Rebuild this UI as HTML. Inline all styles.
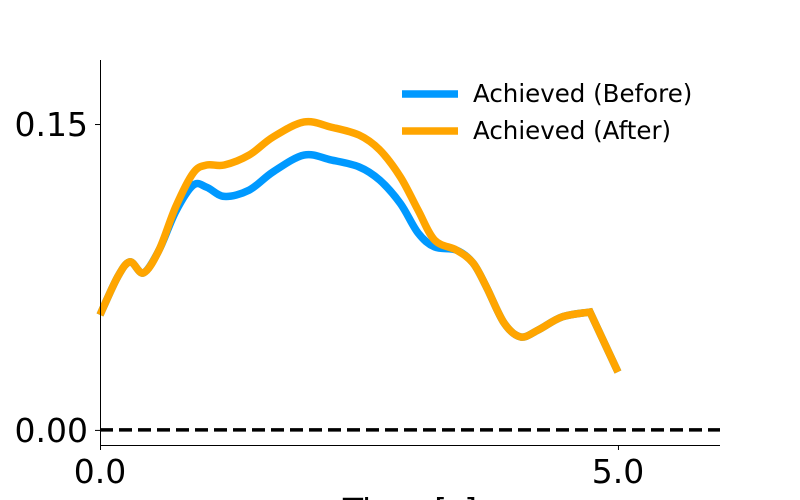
<!DOCTYPE html>
<html><head><meta charset="utf-8"><style>
html,body{margin:0;padding:0;background:#fff;width:800px;height:500px;overflow:hidden;}
svg{display:block;font-family:"DejaVu Sans","Liberation Sans",sans-serif;}
</style></head><body>
<svg id="chart" width="800" height="500" xmlns="http://www.w3.org/2000/svg" style="overflow:hidden">
<g id="plot"></g>
</svg>
<script>
const times = [0,0.17,0.29,0.42,0.57,0.73,0.9,1.03,1.2,1.44,1.67,1.97,2.23,2.5,2.7,2.9,3.07,3.23,3.44,3.6,3.73,3.9,4.06,4.23,4.46,4.73,5.0];
const afterVals = [0.0564,0.075,0.0824,0.077,0.0882,0.1093,0.126,0.1299,0.1299,0.1348,0.1436,0.151,0.1485,0.1446,0.1373,0.124,0.1078,0.0931,0.0882,0.0819,0.0701,0.0525,0.0456,0.049,0.0554,0.0578,0.0284];
const beforeVals = [0.0564,0.075,0.0824,0.077,0.0882,0.107,0.12,0.119,0.1145,0.1176,0.1265,0.1348,0.1324,0.129,0.1225,0.111,0.0966,0.0897,0.0882,0.0819,0.0701,0.0525,0.0456,0.049,0.0554,0.0578,0.0284];
const xTicks = [0, 5];
const xTickLabels = ["0.0","5.0"];
const yTicks = [0, 0.15];
const yTickLabels = ["0.00","0.15"];
const seriesNames = ["Achieved (Before)","Achieved (After)"];

const NS="http://www.w3.org/2000/svg";
const L=100,R=720,T=60,B=445;
const xMin=0,xMax=5.985,yMin=-0.0074,yMax=0.1814;
const sx=v=>L+(v-xMin)/(xMax-xMin)*(R-L);
const sy=v=>B-(v-yMin)/(yMax-yMin)*(B-T);
const g=document.getElementById('plot');
function mk(tag,attrs,parent){const e=document.createElementNS(NS,tag);for(const k in attrs)e.setAttribute(k,attrs[k]);(parent||g).appendChild(e);return e;}
function smooth(xs,ys){
  const p=xs.map((x,i)=>[sx(x),sy(ys[i])]);
  const n=p.length;
  let d=`M${p[0][0]},${p[0][1]}`;
  for(let i=0;i<n-1;i++){
    if(i>=n-2){d+=` L${p[i+1][0]},${p[i+1][1]}`;continue;}
    const p0=p[Math.max(0,i-1)],p1=p[i],p2=p[i+1];
    const p3=(i+2>=n-1)?p[i+1]:p[i+2];
    const c1=[p1[0]+(p2[0]-p0[0])/6,p1[1]+(p2[1]-p0[1])/6];
    const c2=[p2[0]-(p3[0]-p1[0])/6,p2[1]-(p3[1]-p1[1])/6];
    d+=` C${c1[0]},${c1[1]} ${c2[0]},${c2[1]} ${p2[0]},${p2[1]}`;
  }
  return d;
}
const zl=mk('line',{x1:sx(xMin),x2:sx(xMax),y1:sy(0),y2:sy(0),stroke:'#000','stroke-width':3.5,'stroke-dasharray':'13,6'});


const colors=['#0099ff','#ffa500'];
[beforeVals,afterVals].forEach((vals,i)=>{
  const p=mk('path',{d:smooth(times,vals),fill:'none',stroke:colors[i],'stroke-width':7.5,'stroke-linejoin':'miter'});
  
  
});
const ls=mk('line',{x1:L+0.5,x2:L+0.5,y1:T,y2:B,stroke:'#000','stroke-width':1});


const bs=mk('line',{x1:L,x2:R,y1:B+0.5,y2:B+0.5,stroke:'#000','stroke-width':1});


xTicks.forEach((v,i)=>{
  mk('line',{x1:sx(v)+0.5,x2:sx(v)+0.5,y1:B,y2:B+5,stroke:'#000'});
  const t=mk('text',{x:sx(v),y:483,'text-anchor':'middle','font-size':33,fill:'#000'});
  t.textContent=xTickLabels[i];
  
  
});
yTicks.forEach((v,i)=>{
  mk('line',{x1:L-5,x2:L,y1:sy(v)+0.5,y2:sy(v)+0.5,stroke:'#000'});
  const t=mk('text',{x:88,y:sy(v)+12,'text-anchor':'end','font-size':33,fill:'#000'});
  t.textContent=yTickLabels[i];
  
  
});
const xt=mk('text',{x:410,y:522,'text-anchor':'middle','font-size':33,fill:'#000'});
xt.textContent='Time [s]';


seriesNames.forEach((n,i)=>{
  const y=94+i*37;
  const ln=mk('line',{x1:402,x2:458,y1:y,y2:y,stroke:colors[i],'stroke-width':7.5});
  
  
  const t=mk('text',{x:473,y:y+8,'font-size':24.5,fill:'#000'});
  t.textContent=n;
  
  
});
</script>
</body></html>
